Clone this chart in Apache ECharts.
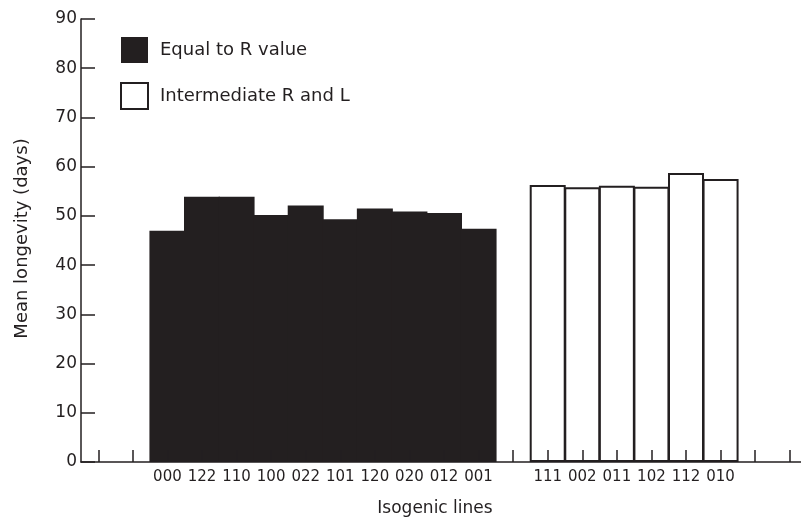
<!DOCTYPE html>
<html>
<head>
<meta charset="utf-8">
<script src="https://cdn.jsdelivr.net/npm/echarts@6/dist/echarts.min.js"></script>
<style>html,body{margin:0;padding:0;background:#fff}#c{width:801px;height:517px}</style>
</head>
<body>
<div id="c"></div>
<script>
// Group labels (isogenic lines)
const equalLines = ['000','122','110','100','022','101','120','020','012','001'];
const equalValues = [47.0, 53.9, 53.9, 50.2, 52.1, 49.3, 51.5, 50.9, 50.6, 47.4];
const interLines = ['111','002','011','102','112','010'];
const interValues = [56.3, 55.8, 56.1, 55.9, 58.7, 57.5];
const yTicks = [0,10,20,30,40,50,60,70,80,90];

// category layout: 2 empty slots, black group, 1 empty, white group, 2 empty
const categories = [].concat(['', ''], equalLines, [''], interLines, ['', '']);
const blackData = categories.map(() => null);
const whiteData = categories.map(() => null);
equalLines.forEach((l, i) => { blackData[2 + i] = equalValues[i]; });
interLines.forEach((l, i) => { whiteData[2 + equalLines.length + 1 + i] = interValues[i]; });

const ink = '#231f20';
const font = 'DejaVu Sans';
const chart = echarts.init(document.getElementById('c'));
chart.setOption({
  animation: false,
  backgroundColor: '#fff',
  textStyle: { fontFamily: font, color: ink },
  grid: { left: 81, top: 19, width: 726, height: 443, outerBoundsMode: 'none', containLabel: false },
  legend: {
    orient: 'vertical', left: 120, top: 37, padding: 0, itemWidth: 27, itemHeight: 26, itemGap: 19,
    textStyle: { fontFamily: font, fontSize: 18, color: ink, padding: [0,0,0,7] },
    data: [
      { name: 'Equal to R value', icon: 'rect', itemStyle: { color: ink, borderWidth: 0 } },
      { name: 'Intermediate R and L', icon: 'rect', itemStyle: { color: '#fff', borderColor: ink, borderWidth: 2 } }
    ]
  },
  xAxis: {
    type: 'category', data: categories, boundaryGap: true, z: 5,
    name: 'Isogenic lines', nameLocation: 'middle', nameGap: 38,
    nameTextStyle: { fontFamily: font, fontSize: 17, color: ink, padding: [0, 18, 0, 0] },
    axisLine: { lineStyle: { color: ink, width: 1.5 } },
    axisTick: { show: true, inside: true, length: 12, alignWithLabel: true, interval: 0, lineStyle: { color: ink, width: 1.5 } },
    axisLabel: { interval: 0, fontSize: 15, color: ink, margin: 8 },
    splitLine: { show: false }
  },
  yAxis: {
    type: 'value', min: 0, max: 90, interval: 10,
    name: 'Mean longevity (days)', nameLocation: 'middle', nameGap: 50,
    nameTextStyle: { fontFamily: font, fontSize: 18, color: ink, padding: [0, 0, 0, 4] },
    axisLine: { show: true, lineStyle: { color: ink, width: 1.5 } },
    axisTick: { show: true, inside: true, length: 14, lineStyle: { color: ink, width: 1.5 } },
    axisLabel: { fontSize: 17, color: ink, margin: 4, formatter: v => yTicks.includes(v) ? String(v) : '' },
    splitLine: { show: false }
  },
  series: [
    { name: 'Equal to R value', type: 'bar', data: blackData, stack: 'col', barWidth: 36,
      itemStyle: { color: ink, borderWidth: 0 } },
    { name: 'Intermediate R and L', type: 'bar', data: whiteData, stack: 'col', barWidth: 36,
      itemStyle: { color: '#fff', borderColor: ink, borderWidth: 2 } }
  ]
});
</script>
</body>
</html>
